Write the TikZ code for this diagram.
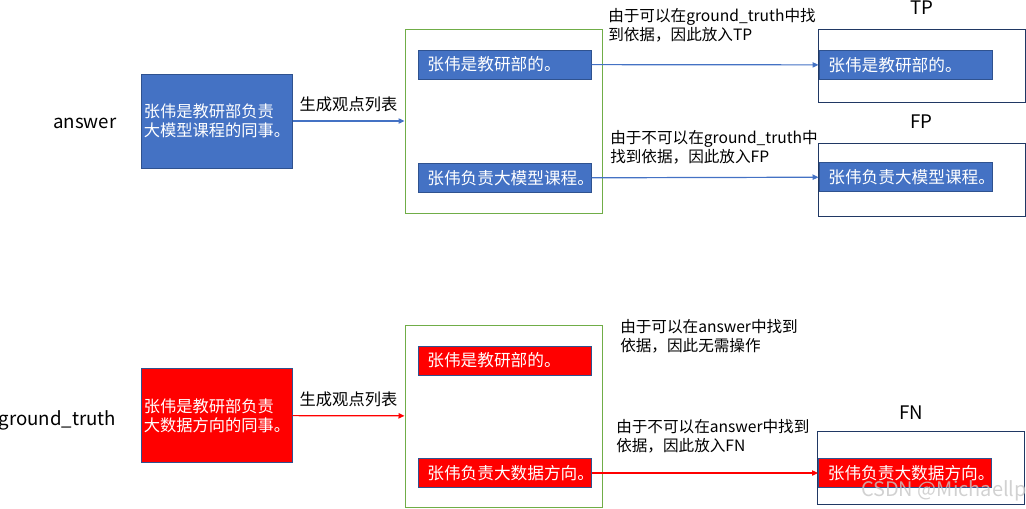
\documentclass[tikz,border=0pt]{standalone}
\usepackage{fontspec}
\setmainfont{Noto Sans CJK SC}
\usepackage{tikz}
\usetikzlibrary{arrows.meta, positioning}
\definecolor{ansblue}{HTML}{4472C4}
\definecolor{boxedge}{HTML}{2F528F}
\definecolor{gtred}{HTML}{FF0000}
\definecolor{listgreen}{HTML}{70AD47}
\definecolor{binnavy}{HTML}{203864}

\begin{document}
\begin{tikzpicture}[x=0.75pt, y=-0.75pt, font=\fontsize{12.2pt}{14.5pt}\selectfont,
    srcbox/.style={draw=boxedge, line width=0.75pt, text=white, minimum width=113.25pt, minimum height=70.5pt, text width=109pt, inner xsep=2.1pt, align=left},
    listbox/.style={draw=listgreen, line width=0.75pt, minimum width=147.75pt},
    claim/.style={draw=boxedge, line width=0.75pt, text=white, font=\fontsize{12.5pt}{15pt}\selectfont, text width=115.75pt, inner xsep=7pt, inner ysep=0pt, minimum height=21.75pt, align=left},
    binbox/.style={draw=binnavy, line width=0.75pt, minimum width=155.25pt, minimum height=54.75pt},
    note/.style={anchor=west, inner sep=0pt, align=left, font=\fontsize{11.7pt}{14.5pt}\selectfont},
    tag/.style={font=\fontsize{14pt}{17pt}\selectfont},
    link/.style={-{Triangle[length=4.5pt, width=4pt]}, line width=0.9pt}]
    \useasboundingbox (0,0) rectangle (1026,508);

    % answer
    \node[tag, anchor=east] (anslabel) at (121,123) {answer};
    \node[srcbox, fill=ansblue] (ans) at (216.5,121) {张伟是教研部负责\\大模型课程的同事。};
    \node[listbox, minimum height=138pt] (anslist) at (503.5,121) {};
    \node[claim, fill=ansblue] (ans1) at (504.5,64.5) {张伟是教研部的。};
    \node[claim, fill=ansblue] (ans2) at (504.5,178) {张伟负责大模型课程。};
    \node[binbox] (tp) at (921.5,65.5) {};
    \node[claim, fill=ansblue] (tp1) at (905.5,65) {张伟是教研部的。};
    \node[binbox] (fp) at (921.5,180) {};
    \node[claim, fill=ansblue] (fp1) at (905.5,177) {张伟负责大模型课程。};
    \node[tag, above=7pt of tp] (tplabel) {TP};
    \node[tag, above=7pt of fp] (fplabel) {FP};
    \node[note] (tpnote) at (608,25) {由于可以在ground\_truth中找\\到依据，因此放入TP};
    \node[note] (fpnote) at (610,147) {由于不可以在ground\_truth中\\找到依据，因此放入FP};
    \draw[link, draw=ansblue] (ans) -- (anslist) node[midway, above=3pt] {生成观点列表};
    \draw[link, draw=ansblue] (ans1) -- (tp1);
    \draw[link, draw=ansblue] (ans2) -- (fp1);

    % ground_truth
    \node[tag, anchor=east] (gtlabel) at (121,420) {ground\_truth};
    \node[srcbox, fill=gtred] (gt) at (216.5,415.5) {张伟是教研部负责\\大数据方向的同事。};
    \node[listbox, minimum height=136.5pt] (gtlist) at (503.5,416) {};
    \node[claim, fill=gtred] (gt1) at (504.5,360.5) {张伟是教研部的。};
    \node[claim, fill=gtred] (gt2) at (504.5,473) {张伟负责大数据方向。};
    \node[binbox] (fn) at (921,468) {};
    \node[claim, fill=gtred] (fn1) at (905,473) {张伟负责大数据方向。};
    \node[tag] (fnlabel) at (911,413) {FN};
    \node[note] (oknote) at (620,336) {由于可以在answer中找到\\依据，因此无需操作};
    \node[note] (fnnote) at (616,436) {由于不可以在answer中找到\\依据，因此放入FN};
    \draw[link, draw=gtred] (gt) -- (gtlist) node[midway, above=3pt] {生成观点列表};
    \draw[link, draw=gtred] (gt2) -- (fn1);

    \node[text=gray!45, opacity=0.8, font=\fontsize{15pt}{18pt}\selectfont] (mark) at (944,491) {CSDN @Michaellp};
\end{tikzpicture}
\end{document}
